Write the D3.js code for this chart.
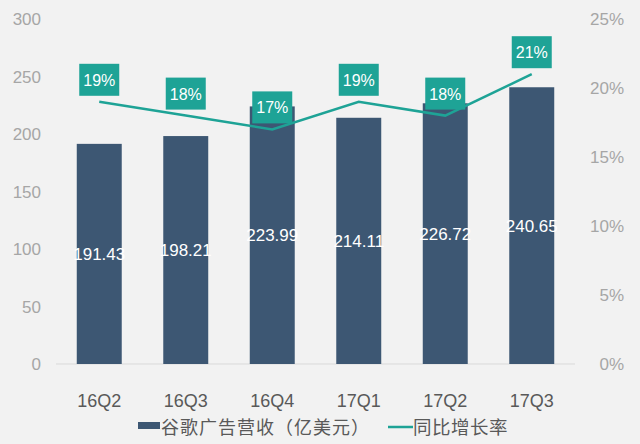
<!DOCTYPE html>
<html>
<head>
<meta charset="utf-8">
<script src="https://cdn.jsdelivr.net/npm/d3@7"></script>
<style>
	body { margin: 0; background: #f2f2f2; }
	svg { display: block; font-family: "Liberation Sans", Arial, "Noto Sans CJK SC", sans-serif; }
</style>
</head>
<body>
<svg></svg>
<script>
// chart data
let quarters = ['16Q2', '16Q3', '16Q4', '17Q1', '17Q2', '17Q3'];
let revenue = [191.43, 198.21, 223.99, 214.11, 226.72, 240.65];
let growth = [19, 18, 17, 19, 18, 21];
let leftTicks = [0, 50, 100, 150, 200, 250, 300];
let rightTicks = [0, 5, 10, 15, 20, 25];
let legendNames = ['谷歌广告营收（亿美元）', '同比增长率'];

let width = 640;
let height = 444;
let barColor = '#3d5773';
let lineColor = '#1ea396';

let svg = d3.select('svg')
	.attr('width', width)
	.attr('height', height);

svg.append('rect')
	.attr('width', width)
	.attr('height', height)
	.attr('fill', '#f2f2f2');

let x = d3.scaleBand().domain(quarters).range([56, 575]).paddingInner(0.48).paddingOuter(0.24);
let yLeft = d3.scaleLinear().domain([0, 300]).range([364, 19]);
let yRight = d3.scaleLinear().domain([0, 25]).range([364, 19]);

// left axis labels
svg.append('g')
	.selectAll('text')
	.data(leftTicks)
	.enter()
	.append('text')
	.attr('x', 41)
	.attr('y', function(d) { return yLeft(d) + 6; })
	.attr('text-anchor', 'end')
	.attr('font-size', 17)
	.attr('fill', '#a6a6a6')
	.text(function(d) { return d; });

// right axis labels
svg.append('g')
	.selectAll('text')
	.data(rightTicks)
	.enter()
	.append('text')
	.attr('x', 624)
	.attr('y', function(d) { return yRight(d) + 6; })
	.attr('text-anchor', 'end')
	.attr('font-size', 17)
	.attr('fill', '#a6a6a6')
	.text(function(d) { return d + '%'; });

// baseline
svg.append('line')
	.attr('x1', 56)
	.attr('x2', 575)
	.attr('y1', yLeft(0))
	.attr('y2', yLeft(0))
	.attr('stroke', '#d9d9d9')
	.attr('stroke-width', 1);

// bars
svg.append('g')
	.selectAll('rect')
	.data(revenue)
	.enter()
	.append('rect')
	.attr('x', function(d, i) { return x(quarters[i]); })
	.attr('y', function(d) { return yLeft(d); })
	.attr('width', x.bandwidth())
	.attr('height', function(d) { return yLeft(0) - yLeft(d); })
	.attr('fill', barColor);

// bar value labels
svg.append('g')
	.selectAll('text')
	.data(revenue)
	.enter()
	.append('text')
	.attr('x', function(d, i) { return x(quarters[i]) + x.bandwidth() / 2; })
	.attr('y', function(d) { return (yLeft(d) + yLeft(0)) / 2 + 6; })
	.attr('text-anchor', 'middle')
	.attr('font-size', 17)
	.attr('fill', '#ffffff')
	.text(function(d) { return d.toFixed(2); });

// growth line
let line = d3.line()
	.x(function(d, i) { return x(quarters[i]) + x.bandwidth() / 2; })
	.y(function(d) { return yRight(d); });

svg.append('path')
	.datum(growth)
	.attr('d', line)
	.attr('fill', 'none')
	.attr('stroke', lineColor)
	.attr('stroke-width', 2.5);

// growth label boxes
let boxes = svg.append('g')
	.selectAll('g')
	.data(growth)
	.enter()
	.append('g')
	.attr('transform', function(d, i) {
		return 'translate(' + (x(quarters[i]) + x.bandwidth() / 2) + ',' + (yRight(d) - 6) + ')';
	});

boxes.append('rect')
	.attr('x', -20)
	.attr('y', -32)
	.attr('width', 40)
	.attr('height', 32)
	.attr('fill', lineColor);

boxes.append('text')
	.attr('y', -10)
	.attr('text-anchor', 'middle')
	.attr('font-size', 16)
	.attr('fill', '#ffffff')
	.text(function(d) { return d + '%'; });

// x labels
svg.append('g')
	.selectAll('text')
	.data(quarters)
	.enter()
	.append('text')
	.attr('x', function(d) { return x(d) + x.bandwidth() / 2; })
	.attr('y', 407)
	.attr('text-anchor', 'middle')
	.attr('font-size', 18)
	.attr('fill', '#595959')
	.text(function(d) { return d; });

// legend
let legend = svg.append('g');

legend.append('rect')
	.attr('x', 138)
	.attr('y', 422)
	.attr('width', 22)
	.attr('height', 7)
	.attr('fill', barColor);

legend.append('text')
	.attr('x', 161)
	.attr('y', 434)
	.attr('font-family', '"Noto Sans CJK SC", sans-serif')
	.attr('font-size', 18)
	.attr('letter-spacing', 1)
	.attr('fill', '#595959')
	.text(legendNames[0]);

legend.append('line')
	.attr('x1', 388)
	.attr('x2', 413)
	.attr('y1', 427)
	.attr('y2', 427)
	.attr('stroke', lineColor)
	.attr('stroke-width', 2.5);

legend.append('text')
	.attr('x', 413)
	.attr('y', 434)
	.attr('font-family', '"Noto Sans CJK SC", sans-serif')
	.attr('font-size', 18.5)
	.attr('letter-spacing', 0.5)
	.attr('fill', '#595959')
	.text(legendNames[1]);
</script>
</body>
</html>
